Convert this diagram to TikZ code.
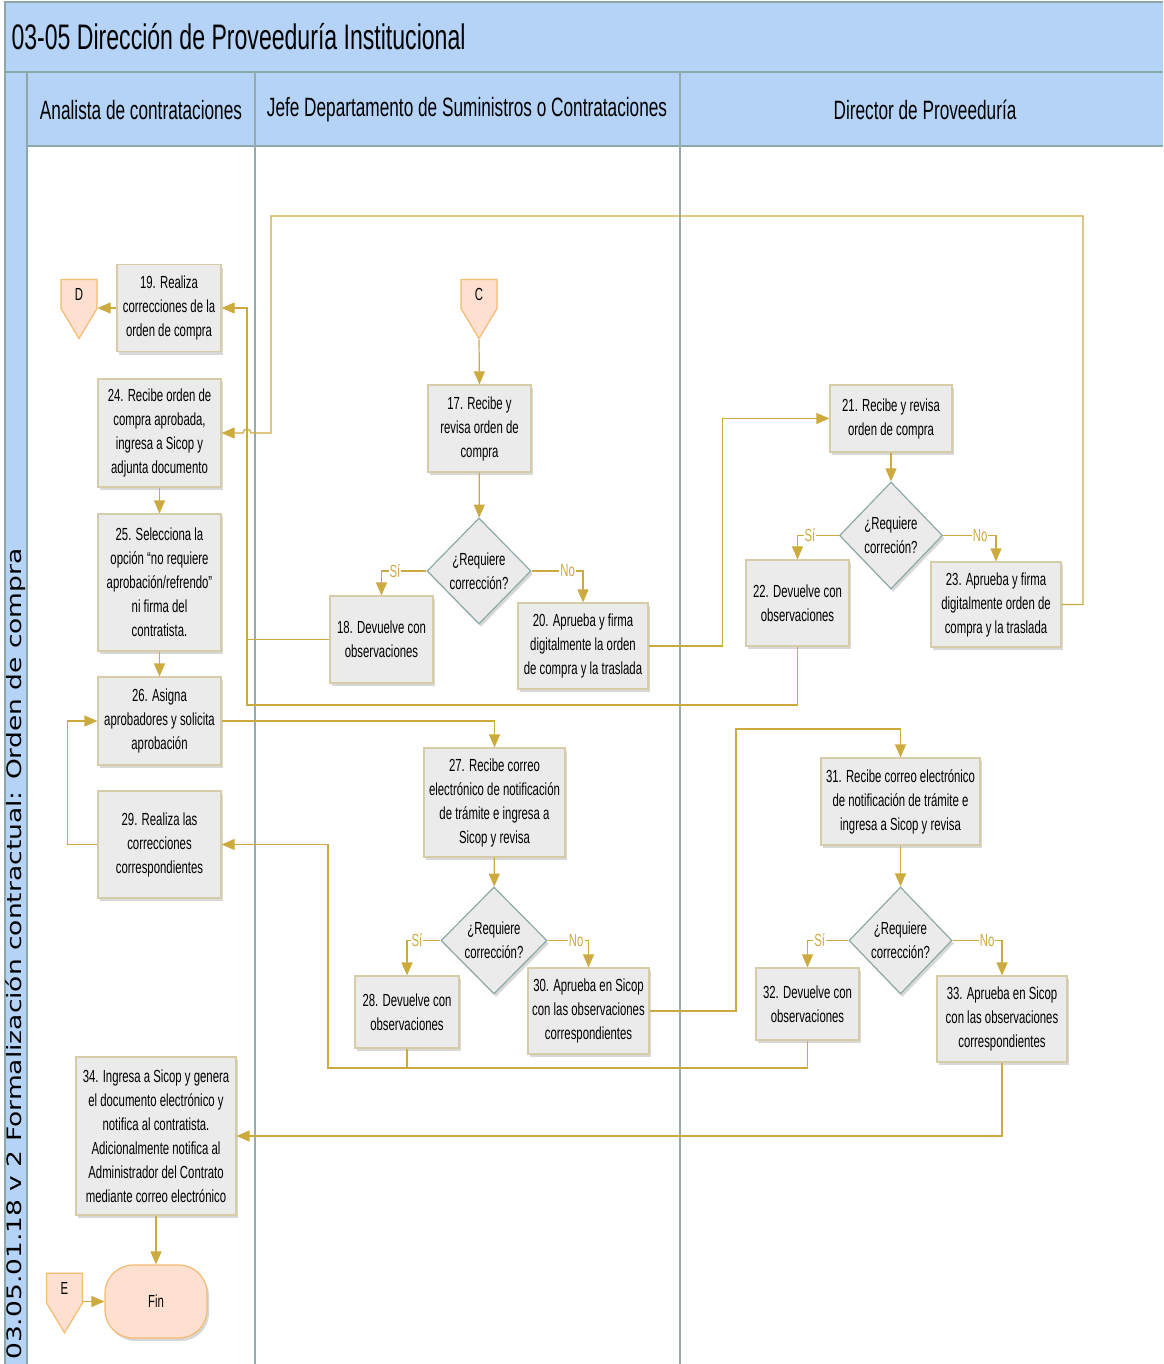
\documentclass[tikz,border=0pt]{standalone}
\usepackage{fontspec}
\usepackage{graphicx}
\setmainfont{Liberation Sans}[FakeStretch=0.65]
\newfontfamily\stripfont{DejaVu Sans}
\usetikzlibrary{positioning, shapes.geometric, shapes.symbols, arrows.meta, shadows}

\definecolor{hdrblue}{RGB}{180,211,246}
\definecolor{hdrline}{RGB}{140,168,168}
\definecolor{laneline}{RGB}{150,172,172}
\definecolor{boxfill}{RGB}{235,235,235}
\definecolor{boxline}{RGB}{214,204,168}
\definecolor{gold}{RGB}{205,170,62}
\definecolor{qline}{RGB}{140,170,166}
\definecolor{pagefill}{RGB}{253,224,208}
\definecolor{pageline}{RGB}{246,186,112}

\tikzset{
    task/.style={rectangle, draw=boxline, line width=1.2pt, fill=boxfill, align=center,
        font=\fontsize{17.5}{24}\selectfont, inner sep=2pt,
        drop shadow={shadow xshift=2pt, shadow yshift=-3pt, fill=black!50, opacity=0.3}},
    query/.style={diamond, draw=qline, line width=1.2pt, fill=boxfill, align=center,
        font=\fontsize{17.5}{24}\selectfont, inner sep=0pt,
        drop shadow={shadow xshift=2pt, shadow yshift=-3pt, fill=black!50, opacity=0.3}},
    offpage/.style={signal, signal to=south, signal pointer angle=62, draw=pageline,
        line width=1.2pt, fill=pagefill, font=\fontsize{17.5}{20}\selectfont,
        minimum width=36pt, minimum height=36pt, inner sep=0pt},
    endbox/.style={rectangle, rounded corners=28pt, draw=pageline, line width=1.2pt,
        fill=pagefill, font=\fontsize{17.5}{20}\selectfont,
        minimum width=102pt, minimum height=73pt,
        drop shadow={shadow xshift=2pt, shadow yshift=-3pt, fill=black!50, opacity=0.3}},
    flow/.style={draw=gold, line width=1.2pt, -{Triangle[length=13pt, width=11pt]}},
    link/.style={draw=gold, line width=1.2pt},
    yesno/.style={fill=white, text=gold, inner sep=1pt, font=\fontsize{17.5}{20}\selectfont}
}

\begin{document}
\begin{tikzpicture}[x=1pt, y=-1pt]
    \useasboundingbox (0,0) rectangle (1163,1364);

    %Lanes
    \fill[white] (0,0) rectangle (1163,1364);
    \fill[hdrblue] (5,2) rectangle (1163,146);
    \fill[hdrblue] (5,72) rectangle (27,1364);
    \draw[hdrline, line width=1.5pt] (5,1364) -- (5,2) -- (1163,2);
    \draw[hdrline, line width=1.5pt] (5,72) -- (1163,72);
    \draw[hdrline, line width=1.5pt] (27,146) -- (1163,146);
    \draw[hdrline, line width=1.5pt] (27,72) -- (27,1364);
    \draw[laneline, line width=1.2pt] (255,72) -- (255,1364);
    \draw[laneline, line width=1.2pt] (680,72) -- (680,1364);

    \node[anchor=west, font=\fontsize{35.5}{40}\selectfont] (title) at (8,37) {03-05 Dirección de Proveeduría Institucional};
    \node[font=\fontsize{26.5}{30}\selectfont] (lane1) at (141,110) {Analista de contrataciones};
    \node[font=\fontsize{26.5}{30}\selectfont] (lane2) at (467,110) {Jefe Departamento de Suministros o Contrataciones};
    \node[font=\fontsize{26.5}{30}\selectfont] (lane3) at (925,110) {Director de Proveeduría};
    \node[rotate=90, anchor=west, inner sep=0pt, font=\stripfont\fontsize{26.5}{28}\selectfont] (strip) at (16,1360)
        {\scalebox{1}[0.75]{03.05.01.18 v 2 Formalización contractual: Orden de compra}};

    %Nodes
    \node[offpage] (D) at (79,294) {D};
    \node[task, minimum width=104pt, minimum height=87pt] (19) at (169,308) {19. Realiza\\correcciones de la\\orden de compra};
    \node[task, minimum width=123pt, minimum height=108pt] (24) at (159.5,433) {24. Recibe orden de\\compra aprobada,\\ingresa a Sicop y\\adjunta documento};
    \node[task, minimum width=123pt, minimum height=137pt] (25) at (159.5,582.5) {25. Selecciona la\\opción “no requiere\\aprobación/refrendo”\\ni firma del\\contratista.};
    \node[task, minimum width=123pt, minimum height=88pt] (26) at (159.5,721) {26. Asigna\\aprobadores y solicita\\aprobación};
    \node[task, minimum width=123pt, minimum height=107pt] (29) at (159.5,844.5) {29. Realiza las\\correcciones\\correspondientes};
    \node[task, minimum width=160pt, minimum height=158pt] (34) at (156,1136) {34. Ingresa a Sicop y genera\\el documento electrónico y\\notifica al contratista.\\Adicionalmente notifica al\\Administrador del Contrato\\mediante correo electrónico};
    \node[offpage] (E) at (64.5,1288) {E};
    \node[endbox] (fin) at (156,1301.5) {Fin};

    \node[offpage] (C) at (479,294) {C};
    \node[task, minimum width=103pt, minimum height=87pt] (17) at (479.5,428.5) {17. Recibe y\\revisa orden de\\compra};
    \node[query, minimum width=104pt, minimum height=106pt] (q17) at (479,571) {¿Requiere\\corrección?};
    \node[task, minimum width=103pt, minimum height=87pt] (18) at (381.5,639.5) {18. Devuelve con\\observaciones};
    \node[task, minimum width=130pt, minimum height=86pt] (20) at (583,646) {20. Aprueba y firma\\digitalmente la orden\\de compra y la traslada};
    \node[task, minimum width=141pt, minimum height=109pt] (27) at (494.5,802.5) {27. Recibe correo\\electrónico de notificación\\de trámite e ingresa a\\Sicop y revisa};
    \node[query, minimum width=106pt, minimum height=107pt] (q27) at (494,940.5) {¿Requiere\\corrección?};
    \node[task, minimum width=104pt, minimum height=72pt] (28) at (407,1012) {28. Devuelve con\\observaciones};
    \node[task, minimum width=121pt, minimum height=86pt] (30) at (588.5,1011) {30. Aprueba en Sicop\\con las observaciones\\correspondientes};

    \node[task, minimum width=122pt, minimum height=67pt] (21) at (891,418.5) {21. Recibe y revisa\\orden de compra};
    \node[query, minimum width=103pt, minimum height=107pt] (q21) at (891,535.5) {¿Requiere\\correción?};
    \node[task, minimum width=103pt, minimum height=86pt] (22) at (797.5,603) {22. Devuelve con\\observaciones};
    \node[task, minimum width=130pt, minimum height=85pt] (23) at (996,604.5) {23. Aprueba y firma\\digitalmente orden de\\compra y la traslada};
    \node[task, minimum width=159pt, minimum height=87pt] (31) at (900.5,801.5) {31. Recibe correo electrónico\\de notificación de trámite e\\ingresa a Sicop y revisa};
    \node[query, minimum width=103pt, minimum height=107pt] (q31) at (900.5,940.5) {¿Requiere\\corrección?};
    \node[task, minimum width=103pt, minimum height=72pt] (32) at (807.5,1004) {32. Devuelve con\\observaciones};
    \node[task, minimum width=130pt, minimum height=86pt] (33) at (1002,1019) {33. Aprueba en Sicop\\con las observaciones\\correspondientes};

    \coordinate (j19) at (247,308);
    \coordinate (k19) at (247,705);
    \coordinate (t23) at (1083,216);
    \coordinate (u24) at (271,433);
    \coordinate (m29) at (328,1068);
    \coordinate (n31) at (736,729);

    %Lines
    \draw[flow] (C.south) -- (17.north);
    \draw[flow] (17) -- (q17);
    \draw[flow] (q17.west) -| node[yesno, pos=0.35] {Sí} (18.north);
    \draw[flow] (q17.east) -| node[yesno, pos=0.35] {No} (20.north);
    \draw[flow] (18.west) -| (j19) -- (19.east);
    \draw[link] (22.south) |- (k19) -- (j19);
    \draw[flow] (19.west) -- (19.west -| D.east);
    \draw[flow] (23.east) -| (t23) -| (u24) -- ++(-20,0) arc[start angle=0, end angle=180, radius=4pt] -- (24.east);
    \draw[flow] (20.east) -- ++(74,0) |- (21.west);
    \draw[flow] (21) -- (q21);
    \draw[flow] (q21.west) -| node[yesno, pos=0.35] {Sí} (22.north);
    \draw[flow] (q21.east) -| node[yesno, pos=0.35] {No} (23.north);
    \draw[flow] (24) -- (25);
    \draw[flow] (25) -- (26);
    \draw[flow] (26.east) -| (27.north);
    \draw[flow] (29.west) -- ++(-30,0) |- (26.west);
    \draw[flow] (27) -- (q27);
    \draw[flow] (q27.west) -| node[yesno, pos=0.35] {Sí} (28.north);
    \draw[flow] (q27.east) -| node[yesno, pos=0.35] {No} (30.north);
    \draw[flow] (28.south) |- (m29) |- (29.east);
    \draw[link] (32.south) |- (m29);
    \draw[flow] (30.east) -| (n31) -| (31.north);
    \draw[flow] (31) -- (q31);
    \draw[flow] (q31.west) -| node[yesno, pos=0.35] {Sí} (32.north);
    \draw[flow] (q31.east) -| node[yesno, pos=0.35] {No} (33.north);
    \draw[flow] (33.south) |- (34.east);
    \draw[flow] (34) -- (fin);
    \draw[flow] (E.east |- fin.west) -- (fin.west);
\end{tikzpicture}
\end{document}
